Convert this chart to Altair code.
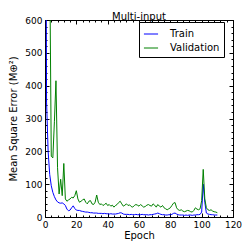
import altair as alt
import pandas as pd

epochs = list(range(111))
train = [2000, 350, 200, 130, 95, 75, 62, 52, 46, 43,
         42, 43, 40, 35, 24, 19, 21, 28, 34, 26,
         21, 20, 20, 18, 17, 16, 15, 15, 14, 13,
         13, 12, 12, 12, 11, 11, 11, 10, 11, 10,
         10, 9, 10, 9, 9, 9, 10, 11, 13, 12,
         9, 8, 8, 8, 7, 8, 7, 7, 8, 7,
         7, 7, 8, 7, 7, 7, 6, 7, 7, 8,
         9, 10, 12, 10, 8, 7, 7, 6, 6, 7,
         7, 8, 11, 12, 9, 7, 6, 6, 6, 5,
         6, 5, 6, 6, 5, 6, 6, 7, 7, 8,
         15, 100, 45, 12, 9, 8, 7, 7, 6, 6,
         6]
validation = [3000, 1800, 1100, 800, 185, 180, 290, 415, 150, 70,
              115, 65, 163, 55, 48, 52, 55, 60, 58, 65,
              80, 55, 45, 48, 52, 55, 45, 40, 48, 50,
              40, 38, 45, 67, 45, 38, 40, 35, 38, 42,
              35, 38, 33, 36, 30, 35, 38, 44, 48, 40,
              33, 36, 40, 35, 37, 32, 30, 35, 38, 36,
              33, 38, 34, 30, 32, 36, 38, 35, 33, 40,
              36, 30, 38, 33, 30, 35, 28, 25, 22, 25,
              28, 35, 42, 44, 28, 22, 20, 22, 18, 16,
              18, 20, 19, 16, 15, 20, 28, 24, 22, 25,
              50, 145, 55, 28, 22, 20, 22, 18, 16, 15,
              13]
series_names = ["Train", "Validation"]
series_colors = ["blue", "green"]
x_major = [0, 20, 40, 60, 80, 100, 120]
x_minor = list(range(0, 121, 4))
y_major = [0, 100, 200, 300, 400, 500, 600]
y_minor = list(range(0, 601, 20))

df = pd.DataFrame({
    "epoch": epochs + epochs,
    "value": train + validation,
    "series": [series_names[0]] * len(epochs) + [series_names[1]] * len(epochs),
})

FONT = "DejaVu Sans"
xs = alt.Scale(domain=[0, 120], nice=False, zero=False)
ys = alt.Scale(domain=[0, 600], nice=False)


def axis(orient, values, size, labels=False, title=None, title_pad=5):
    return alt.Axis(orient=orient, values=values, tickSize=size, offset=-size,
                    domain=False, grid=False, labels=labels, ticks=True,
                    tickColor="black", tickWidth=1, title=title,
                    labelPadding=3, titlePadding=title_pad, labelFlush=False)


lines = alt.Chart(df).mark_line(clip=True, strokeWidth=1).encode(
    x=alt.X("epoch:Q", scale=xs, axis=axis("bottom", x_major, 4, True, "Epoch", 1)),
    y=alt.Y("value:Q", scale=ys, axis=axis("left", y_major, 4, True, "Mean Square Error (M⊕²)", 6)),
    color=alt.Color("series:N",
                    scale=alt.Scale(domain=series_names, range=series_colors),
                    legend=alt.Legend(orient="none", legendX=94, legendY=2, title=None,
                                      symbolType="stroke", symbolSize=200,
                                      symbolStrokeWidth=1, labelFontSize=10,
                                      labelFont=FONT, labelColor="black",
                                      strokeColor="black", fillColor="white",
                                      padding=4, labelOffset=11, rowPadding=1)),
)

minor_bl = alt.Chart(df).mark_point(opacity=0, clip=True).encode(
    x=alt.X("epoch:Q", scale=xs, axis=axis("bottom", x_minor, 2)),
    y=alt.Y("value:Q", scale=ys, axis=axis("left", y_minor, 2)),
)
major_tr = alt.Chart(df).mark_point(opacity=0, clip=True).encode(
    x=alt.X("epoch:Q", scale=xs, axis=axis("top", x_major, 4)),
    y=alt.Y("value:Q", scale=ys, axis=axis("right", y_major, 4)),
)
minor_tr = alt.Chart(df).mark_point(opacity=0, clip=True).encode(
    x=alt.X("epoch:Q", scale=xs, axis=axis("top", x_minor, 2)),
    y=alt.Y("value:Q", scale=ys, axis=axis("right", y_minor, 2)),
)

chart = alt.layer(lines, minor_bl, major_tr, minor_tr).resolve_axis(
    x="independent", y="independent"
).properties(
    width=188, height=197,
    title=alt.TitleParams("Multi-input", fontSize=10, font=FONT, fontWeight="normal",
                          offset=-6, anchor="middle", color="black"),
    autosize=alt.AutoSizeParams(type="none"),
    padding={"left": 37, "top": 12, "right": 9, "bottom": 24},
    background="white",
).configure_view(
    stroke="black", strokeWidth=1
).configure_axis(
    labelFont=FONT, titleFont=FONT, labelColor="black", titleColor="black",
    titleFontWeight="normal", labelFontSize=9, titleFontSize=10,
)

chart.save("out.html", embed_options={"renderer": "svg", "actions": False})
